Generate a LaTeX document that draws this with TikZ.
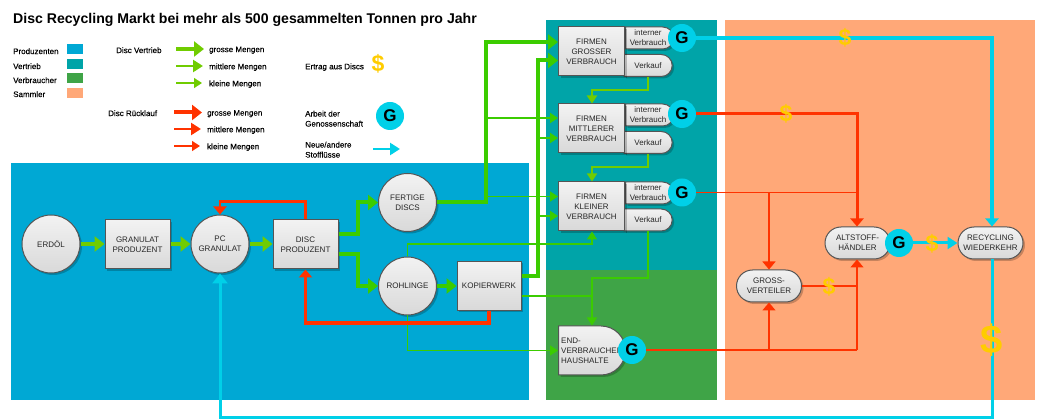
\documentclass[tikz,border=0pt]{standalone}
\usepackage{fontspec}
\setmainfont{Liberation Sans}
\newfontfamily\legendfont[FakeBold=0.25]{Liberation Sans}
\usetikzlibrary{arrows.meta,shapes.misc,shadows,calc}
\definecolor{cBlue}{HTML}{00A8D4}
\definecolor{cTeal}{HTML}{00A4A8}
\definecolor{cGreen}{HTML}{3FA447}
\definecolor{cOrange}{HTML}{FFA878}
\definecolor{gA}{HTML}{70CC00}
\definecolor{gB}{HTML}{3BCC00}
\definecolor{cRed}{HTML}{FF3300}
\definecolor{cCyan}{HTML}{00D0E8}
\definecolor{cGold}{HTML}{FFCC00}
\definecolor{cEdge}{HTML}{555555}
\tikzset{
  txt/.style={font=\fontsize{8}{10}\selectfont,align=center,text=black!85,inner sep=0pt},
  lab/.style={font=\legendfont\fontsize{8}{10}\selectfont,align=left,anchor=west,inner sep=0pt,yshift=-1.2pt},
  body/.style={txt,draw=cEdge,line width=1pt,top color=white!95!black,bottom color=black!15,
     general shadow={shadow xshift=2pt,shadow yshift=-2pt,fill=black,opacity=.22}},
  ball/.style={body,circle,minimum size=58pt},
  boxn/.style={body,rectangle,minimum width=65pt,minimum height=49pt},
  pill/.style={body,rounded rectangle,minimum width=65pt,minimum height=32pt},
  half/.style={body,rounded rectangle,rounded rectangle left arc=none,minimum width=48pt,minimum height=22pt},
  gee/.style={circle,fill=cCyan,minimum size=28pt,inner sep=0pt,font=\fontsize{17}{17}\selectfont\bfseries},
  dol/.style={text=cGold,inner sep=0pt,font=\fontsize{23}{23}\selectfont\bfseries},
  swatch/.style={fill=#1,draw=none,minimum width=16pt,minimum height=10pt,inner sep=0pt},
  tipL/.style={-{Triangle[length=10pt,width=15pt]}},
  tipF/.style={-{Triangle[length=8pt,width=13pt]}},
  tipM/.style={-{Triangle[length=10pt,width=12pt]}},
  tipS/.style={-{Triangle[length=8pt,width=10pt]}},
  gT/.style={draw=gB,line width=4pt},
  gM/.style={draw=gB,line width=2.5pt},
  gS/.style={draw=gB,line width=1.4pt},
  rT/.style={draw=cRed,line width=3pt},
  rM/.style={draw=cRed,line width=2.5pt},
  rS/.style={draw=cRed,line width=1.4pt},
  cT/.style={draw=cCyan,line width=3.5pt},
}
\begin{document}
\begin{tikzpicture}[x=1pt,y=-1pt]
\useasboundingbox (0,0) rectangle (1037,419);
% regions
\fill[cBlue] (11,163) rectangle (529,400);
\fill[cTeal] (546,20) rectangle (717,270);
\fill[cGreen] (546,270) rectangle (717,400);
\fill[cOrange] (725,20) rectangle (1035,400);
% title and legend
\node[anchor=west,inner sep=0pt,font=\fontsize{14.1}{16}\selectfont\bfseries] (title) at (13,20) {Disc Recycling Markt bei mehr als 500 gesammelten Tonnen pro Jahr};
\node[lab] (l1) at (13,50) {Produzenten};
\node[lab] (l2) at (13,65) {Vertrieb};
\node[lab] (l3) at (13,79) {Verbraucher};
\node[lab] (l4) at (13,93) {Sammler};
\node[swatch=cBlue] (s1) at (75,49.5) {};
\node[swatch=cTeal] (s2) at (75,64) {};
\node[swatch=cGreen] (s3) at (75,78.5) {};
\node[swatch=cOrange] (s4) at (75,93) {};
\node[lab] (dv) at (116,49) {Disc Vertrieb};
\node[lab] (dr) at (108,112) {Disc Rücklauf};
\coordinate (a1) at (176,49); \coordinate (a1e) at (204,49);
\coordinate (a2) at (176,66); \coordinate (a2e) at (203,66);
\coordinate (a3) at (176,83); \coordinate (a3e) at (202,83);
\coordinate (b1) at (174,112.5); \coordinate (b1e) at (202,112.5);
\coordinate (b2) at (174,129); \coordinate (b2e) at (201,129);
\coordinate (b3) at (174,146); \coordinate (b3e) at (200,146);
\draw[draw=gA,line width=4pt,tipL] (a1) -- (a1e);
\draw[draw=gA,line width=2.5pt,tipM] (a2) -- (a2e);
\draw[draw=gA,line width=1.4pt,tipS] (a3) -- (a3e);
\draw[rT,line width=4pt,tipL] (b1) -- (b1e);
\draw[rM,tipM] (b2) -- (b2e);
\draw[rS,tipS] (b3) -- (b3e);
\node[lab] (t1) at (209,49) {grosse Mengen};
\node[lab] (t2) at (209,66) {mittlere Mengen};
\node[lab] (t3) at (209,83) {kleine Mengen};
\node[lab] (t4) at (207,112.5) {grosse Mengen};
\node[lab] (t5) at (207,129) {mittlere Mengen};
\node[lab] (t6) at (207,146) {kleine Mengen};
\node[lab] (e1) at (305,66) {Ertrag aus Discs};
\node[dol] (ed) at (378,64) {\$};
\node[lab] (e2) at (305,117.5) {Arbeit der\\Genossenschaft};
\node[gee] (eg) at (390,116) {G};
\node[lab] (e3) at (305,148.5) {Neue/andere\\Stoffl\"usse};
\coordinate (c1) at (373,149); \coordinate (c1e) at (400,149);
\draw[draw=cCyan,line width=2.5pt,tipM] (c1) -- (c1e);
% nodes
\node[ball] (erdoel) at (51,244) {ERDÖL};
\node[boxn] (gran) at (137.5,244.5) {GRANULAT\\PRODUZENT};
\node[ball] (pc) at (220,244) {PC\\GRANULAT};
\node[boxn] (disc) at (305.5,244.5) {DISC\\PRODUZENT};
\node[ball] (fert) at (407.5,202.5) {FERTIGE\\DISCS};
\node[ball] (rohl) at (407.5,286) {ROHLINGE};
\node[boxn,minimum width=64pt] (kop) at (489,286) {KOPIERWERK};
\node[half] (i1) at (648,38) {interner\\Verbrauch};
\node[half] (v1) at (648,65.5) {Verkauf};
\node[boxn,minimum width=66pt] (f1) at (591.5,51.5) {FIRMEN\\GROSSER\\VERBRAUCH};
\node[half] (i2) at (648,115) {interner\\Verbrauch};
\node[half] (v2) at (648,142.5) {Verkauf};
\node[boxn,minimum width=66pt] (f2) at (591.5,128.5) {FIRMEN\\MITTLERER\\VERBRAUCH};
\node[half] (i3) at (648,193) {interner\\Verbrauch};
\node[half] (v3) at (648,220) {Verkauf};
\node[boxn,minimum width=66pt] (f3) at (591.5,206.5) {FIRMEN\\KLEINER\\VERBRAUCH};
\node[body,rounded rectangle,rounded rectangle left arc=none,minimum width=67pt,minimum height=49pt] (end) at (592,350.5) {};
\node[txt,align=left,anchor=west] (endt) at (561,350.5) {END-\\VERBRAUCHER\\HAUSHALTE};
\node[pill] (alt) at (857.5,243) {ALTSTOFF-\\HÄNDLER};
\node[pill] (rec) at (990.5,243) {RECYCLING\\WIEDERKEHR};
\node[pill] (gv) at (769,286) {GROSS-\\VERTEILER};
\node[gee] (g1) at (682,38) {G};
\node[gee] (g2) at (682,114) {G};
\node[gee] (g3) at (682,192.5) {G};
\node[gee] (g4) at (632,350) {G};
\node[gee] (g5) at (899,243) {G};
% junction points
\coordinate (tf) at (486,202.5);
\coordinate (tk) at (538,276);
\coordinate (rv) at (857,192.5);
\coordinate (re) at (857,350);
\coordinate (v3m) at (592,278);
\coordinate (cc) at (992,418);
% green connectors
\draw[draw=gA,line width=4pt,tipL] (erdoel.east) -- (gran.west |- erdoel.east);
\draw[draw=gA,line width=4pt,tipL] (gran.east |- pc.west) -- (pc.west);
\draw[draw=gA,line width=4pt,tipL] (pc.east) -- (disc.west |- pc.east);
\draw[gT,tipL] (disc.east |- 0,234) -| (358,202.5) -- (fert.west);
\draw[gT,tipL] (disc.east |- 0,254) -| (358,286) -- (rohl.west);
\draw[gT,tipL] (rohl.east) -- (kop.west);
\draw[gT,tipL] (fert.east) -- (tf) |- (f1.west |- 0,42);
\draw[gM,tipS] (486,118) -- (f2.west |- 0,118);
\draw[gS,tipS] (486,196.5) -- (f3.west |- 0,196.5);
\draw[gT,tipL] (kop.east |- 0,276) -- (tk) |- (f1.west |- 0,60.5);
\draw[gM,tipS] (538,138) -- (f2.west |- 0,138);
\draw[gM,tipS] (538,216) -- (f3.west |- 0,216);
\draw[gS,tipS] (rohl.north) -- (407.5,244) -| (f3.south -| 592,0);
\draw[gS,tipS] (rohl.south) -- (407.5,350.5) -- (end.west);
\draw[gS] (kop.east |- 0,296) -- (592,296);
\draw[draw=gA,line width=2pt,tipS] (v1.south) -- (648,90) -| (592,0 |- f2.north);
\draw[draw=gA,line width=1.6pt,tipS] (v2.south) -- (648,167) -| (592,0 |- f3.north);
\draw[gS,tipS] (v3.south) -- (648,278) -- (v3m) -- (592,0 |- end.north);
% red connectors
\draw[draw=cRed,line width=2.5pt,tipF] (disc.north) |- (220,201.5) -- (pc.north);
\draw[rT,line width=3.5pt,tipF] (kop.south -| 489,0) -- (489,323) -| (disc.south);
\draw[rT,tipF] (g2.east) -- (857,114) -- (alt.north -| 857,0);
\draw[rS] (g3.east) -- (rv);
\draw[rS,line width=1.6pt,tipF] (769,192.5) -- (gv.north);
\draw[rS] (g4.east) -- (re);
\draw[rS,line width=1.6pt,tipF] (769,350) -- (gv.south);
\draw[rS,tipF] (re) -- (alt.south -| 857,0);
\draw[rT,line width=2.5pt] (gv.east) -- (857,286);
% cyan connectors
\draw[cT,tipF] (g1.east) -- (992,38) -- (992,0 |- rec.north);
\draw[cT,line width=3pt,tipM] (g5.east) -- (rec.west);
\draw[cT,line width=3pt,tipL] (992,0 |- rec.south) -- (cc) -- (220,418) -- (pc.south);
% dollars
\node[dol] (d1) at (845,38) {\$};
\node[dol] (d2) at (786,114) {\$};
\node[dol] (d3) at (829,287) {\$};
\node[dol] (d4) at (932,244) {\$};
\node[dol,font=\fontsize{40}{40}\selectfont\bfseries] (d5) at (992,340) {\$};
\end{tikzpicture}
\end{document}
